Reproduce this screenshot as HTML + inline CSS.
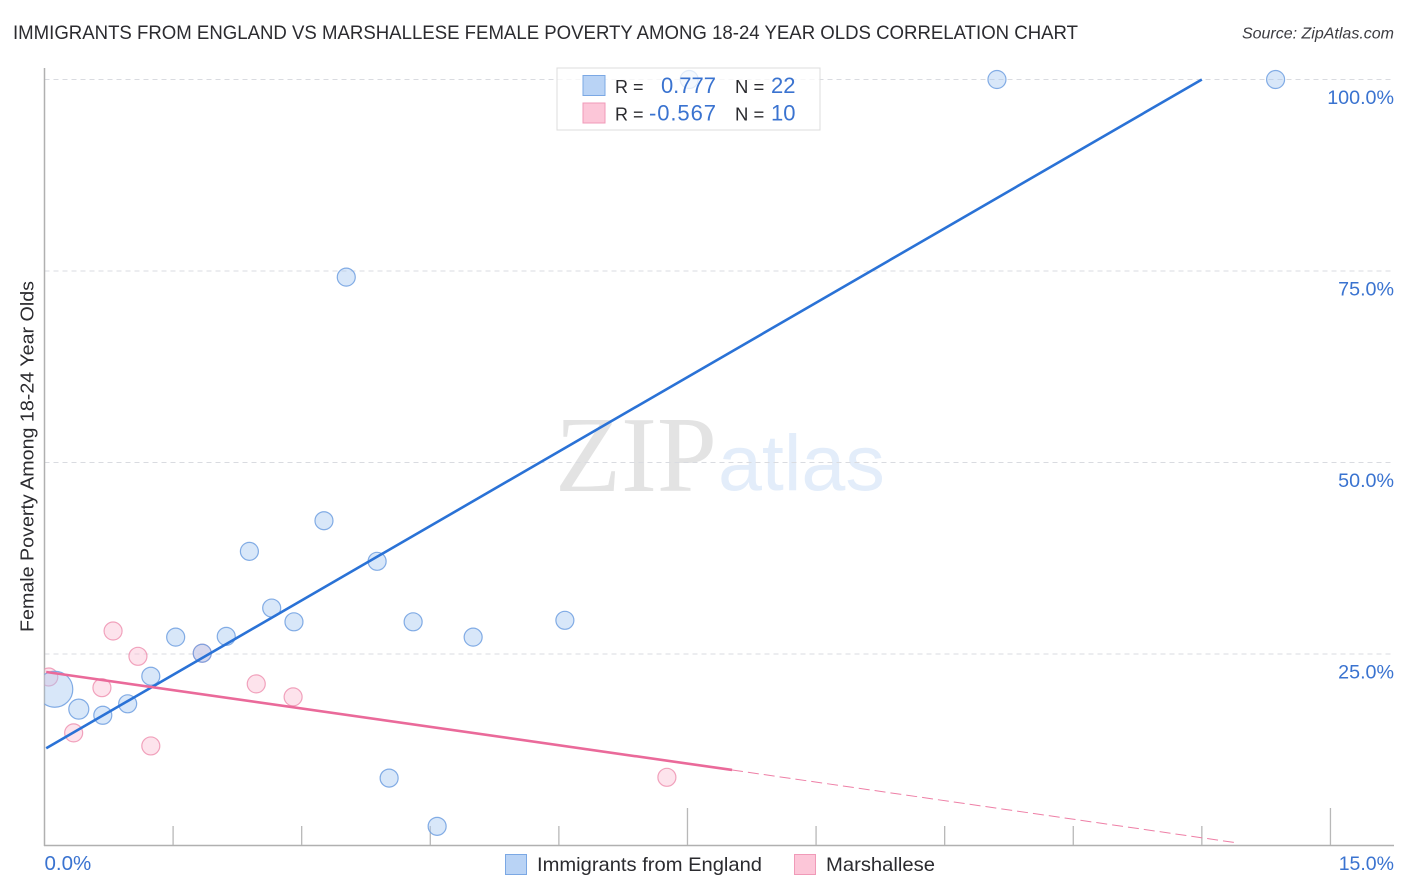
<!DOCTYPE html>
<html lang="en">
<head>
<meta charset="utf-8">
<title>Immigrants from England vs Marshallese Female Poverty Correlation Chart</title>
<style>
html,body{margin:0;padding:0;background:#fff;width:1406px;height:892px;overflow:hidden}
svg{display:block}
text{font-family:"Liberation Sans",sans-serif}
</style>
</head>
<body>
<svg id="chart" xmlns="http://www.w3.org/2000/svg" width="1406" height="892" viewBox="0 0 1406 892">
  <defs>
    <clipPath id="plotClip"><rect x="44.5" y="60" width="1350" height="786"/></clipPath>
  </defs>
  <g>
    <text x="555" y="491" font-size="108" style='font-family:"Liberation Serif",serif' fill="#e3e3e3">ZIP</text>
    <text x="718" y="490" font-size="79" fill="#e3edfa">atlas</text>
  </g>
  <g id="grid"></g>
  <g id="axes"></g>
  <g id="pinkPoints" clip-path="url(#plotClip)"></g>
  <g id="bluePoints" clip-path="url(#plotClip)"></g>
  <g id="lines"></g>
  <text x="13" y="39" font-size="19.5" fill="#2b2b2f" textLength="1065" lengthAdjust="spacingAndGlyphs">IMMIGRANTS FROM ENGLAND VS MARSHALLESE FEMALE POVERTY AMONG 18-24 YEAR OLDS CORRELATION CHART</text>
  <text x="1394" y="38.5" font-size="16" font-style="italic" fill="#3c3c42" text-anchor="end">Source: ZipAtlas.com</text>
  <text transform="translate(33.5,456.5) rotate(-90)" font-size="18.5" fill="#2b2b2f" text-anchor="middle" textLength="351" lengthAdjust="spacingAndGlyphs">Female Poverty Among 18-24 Year Olds</text>
  <g id="yLabels"></g>
  <g id="xLabels"></g>

  <g>
    <rect x="557" y="68" width="263" height="62" fill="#fff" fill-opacity="0.75" stroke="#dcdcdc" stroke-width="1"/>
    <rect x="583" y="75.5" width="22" height="20" fill="#b9d3f5" stroke="#7ba8e4" stroke-width="1"/>
    <rect x="583" y="103" width="22" height="20" fill="#fcc6d8" stroke="#f09ab8" stroke-width="1"/>
    <text x="615" y="93" font-size="18" fill="#2b2b2f">R =</text>
    <text x="716" y="93" font-size="22" fill="#3a73d0" text-anchor="end">0.777</text>
    <text x="735" y="93" font-size="18.5" fill="#2b2b2f">N =</text>
    <text x="771" y="93" font-size="22" fill="#3a73d0">22</text>
    <text x="615" y="120.5" font-size="18" fill="#2b2b2f">R =</text>
    <text x="716" y="120.5" font-size="22" fill="#3a73d0" text-anchor="end" textLength="67" lengthAdjust="spacing">-0.567</text>
    <text x="735" y="120.5" font-size="18.5" fill="#2b2b2f">N =</text>
    <text x="771" y="120.5" font-size="22" fill="#3a73d0">10</text>
  </g>

  <g>
    <g>
      <rect x="505.5" y="854.5" width="21" height="20" fill="#b9d3f5" stroke="#7ba8e4" stroke-width="1"/>
      <text x="537" y="871" font-size="19.5" fill="#2b2b2f" textLength="225" lengthAdjust="spacingAndGlyphs">Immigrants from England</text>
    </g>
    <g>
      <rect x="794.5" y="854.5" width="21" height="20" fill="#fcc6d8" stroke="#f09ab8" stroke-width="1"/>
      <text x="826" y="871" font-size="19.5" fill="#2b2b2f" textLength="109" lengthAdjust="spacingAndGlyphs">Marshallese</text>
    </g>
  </g>
</svg>
<script>
const xTickValues = [1.5, 3, 4.5, 6, 7.5, 9, 10.5, 12, 13.5, 15];
const xMajorTicks = [7.5, 15];
const yGridValues = [25, 50, 75, 100];
const yTickLabels = ["25.0%", "50.0%", "75.0%", "100.0%"];
const xLabelValues = [0, 15];
const xTickLabels = ["0.0%", "15.0%"];

const englandX = [0.12, 0.40, 0.68, 0.97, 1.24, 1.53, 1.84, 2.12, 2.39, 2.65, 2.91, 3.26, 3.52, 3.88, 4.02, 4.30, 4.58, 5.00, 6.07, 7.52, 11.11, 14.36];
const englandY = [20.4, 17.8, 17.0, 18.5, 22.1, 27.2, 25.1, 27.3, 38.4, 31.0, 29.2, 42.4, 74.2, 37.1, 8.8, 29.2, 2.5, 27.2, 29.4, 100, 100, 100];
const englandSize = [18, 10, 9, 9, 9, 9, 9, 9, 9, 9, 9, 9, 9, 9, 9, 9, 9, 9, 9, 9, 9, 9];

const marshalleseX = [0.05, 0.34, 0.67, 0.80, 1.09, 1.24, 1.84, 2.47, 2.90, 7.26];
const marshalleseY = [22.0, 14.7, 20.6, 28.0, 24.7, 13.0, 25.1, 21.1, 19.4, 8.9];
const marshalleseSize = [9, 9, 9, 9, 9, 9, 9, 9, 9, 9];

const englandTrendX = [0.02, 13.5];
const englandTrendY = [12.7, 100];
const marshalleseTrendX = [0.02, 8.02];
const marshalleseTrendY = [22.65, 9.86];
const marshalleseDashX = [8.02, 13.92];
const marshalleseDashY = [9.86, 0.33];

const NS = 'http://www.w3.org/2000/svg';
function xScale(v) { return 44.5 + v * 85.73; }
function yScale(v) { return 845.5 - v * 7.66; }
function make(tag, attrs, parent) {
  const el = document.createElementNS(NS, tag);
  for (const k in attrs) el.setAttribute(k, attrs[k]);
  parent.appendChild(el);
  return el;
}

const grid = document.getElementById('grid');
const axes = document.getElementById('axes');
yGridValues.forEach(function (v) {
  const el = make('line', { x1: 44.5, x2: 1394, y1: yScale(v), y2: yScale(v), stroke: '#d9dbe0', 'stroke-width': 1, 'stroke-dasharray': '5 4' }, grid);
  
  
});

const yAxis = make('line', { x1: 44.5, x2: 44.5, y1: 68, y2: 846, stroke: '#b0b0b0', 'stroke-width': 1.5 }, axes);


const xAxis = make('line', { x1: 44, x2: 1394, y1: 845.5, y2: 845.5, stroke: '#b0b0b0', 'stroke-width': 1.5 }, axes);


xTickValues.forEach(function (v) {
  const top = xMajorTicks.indexOf(v) !== -1 ? 808 : 826;
  const el = make('line', { x1: xScale(v), x2: xScale(v), y1: top, y2: 845, stroke: '#b8b8b8', 'stroke-width': 1.3 }, axes);
  
  
});

const yLabels = document.getElementById('yLabels');
yGridValues.forEach(function (v, i) {
  const el = make('text', { x: 1394, y: yScale(v) + 24.5, 'font-size': 19.7, fill: '#3a73d0', 'text-anchor': 'end' }, yLabels);
  el.textContent = yTickLabels[i];
  
  
});

const xLabels = document.getElementById('xLabels');
xLabelValues.forEach(function (v, i) {
  const isLast = i === xLabelValues.length - 1;
  const el = make('text', { x: isLast ? 1394 : xScale(v), y: 870, 'font-size': isLast ? 19.5 : 20.5, fill: '#3a73d0', 'text-anchor': isLast ? 'end' : 'start' }, xLabels);
  el.textContent = xTickLabels[i];
  
  
});

const bluePoints = document.getElementById('bluePoints');
englandX.forEach(function (x, i) {
  const el = make('circle', { cx: xScale(x), cy: yScale(englandY[i]), r: englandSize[i], fill: '#a9c9f2', 'fill-opacity': 0.45, stroke: '#6f9fe0', 'stroke-opacity': 0.85, 'stroke-width': 1.2 }, bluePoints);
  
  
});

const pinkPoints = document.getElementById('pinkPoints');
marshalleseX.forEach(function (x, i) {
  const el = make('circle', { cx: xScale(x), cy: yScale(marshalleseY[i]), r: marshalleseSize[i], fill: '#fac0d4', 'fill-opacity': 0.45, stroke: '#ee93b2', 'stroke-opacity': 0.85, 'stroke-width': 1.2 }, pinkPoints);
  
  
});

const lines = document.getElementById('lines');
const dash = make('line', { x1: xScale(marshalleseDashX[0]), y1: yScale(marshalleseDashY[0]), x2: xScale(marshalleseDashX[1]), y2: yScale(marshalleseDashY[1]), stroke: '#ee7fa6', 'stroke-width': 1, 'stroke-dasharray': '11 5' }, lines);


const blueLine = make('line', { x1: xScale(englandTrendX[0]), y1: yScale(englandTrendY[0]), x2: xScale(englandTrendX[1]), y2: yScale(englandTrendY[1]), stroke: '#2a72d6', 'stroke-width': 2.6 }, lines);


const pinkLine = make('line', { x1: xScale(marshalleseTrendX[0]), y1: yScale(marshalleseTrendY[0]), x2: xScale(marshalleseTrendX[1]), y2: yScale(marshalleseTrendY[1]), stroke: '#ea6a9a', 'stroke-width': 2.6 }, lines);


</script>
</body>
</html>
